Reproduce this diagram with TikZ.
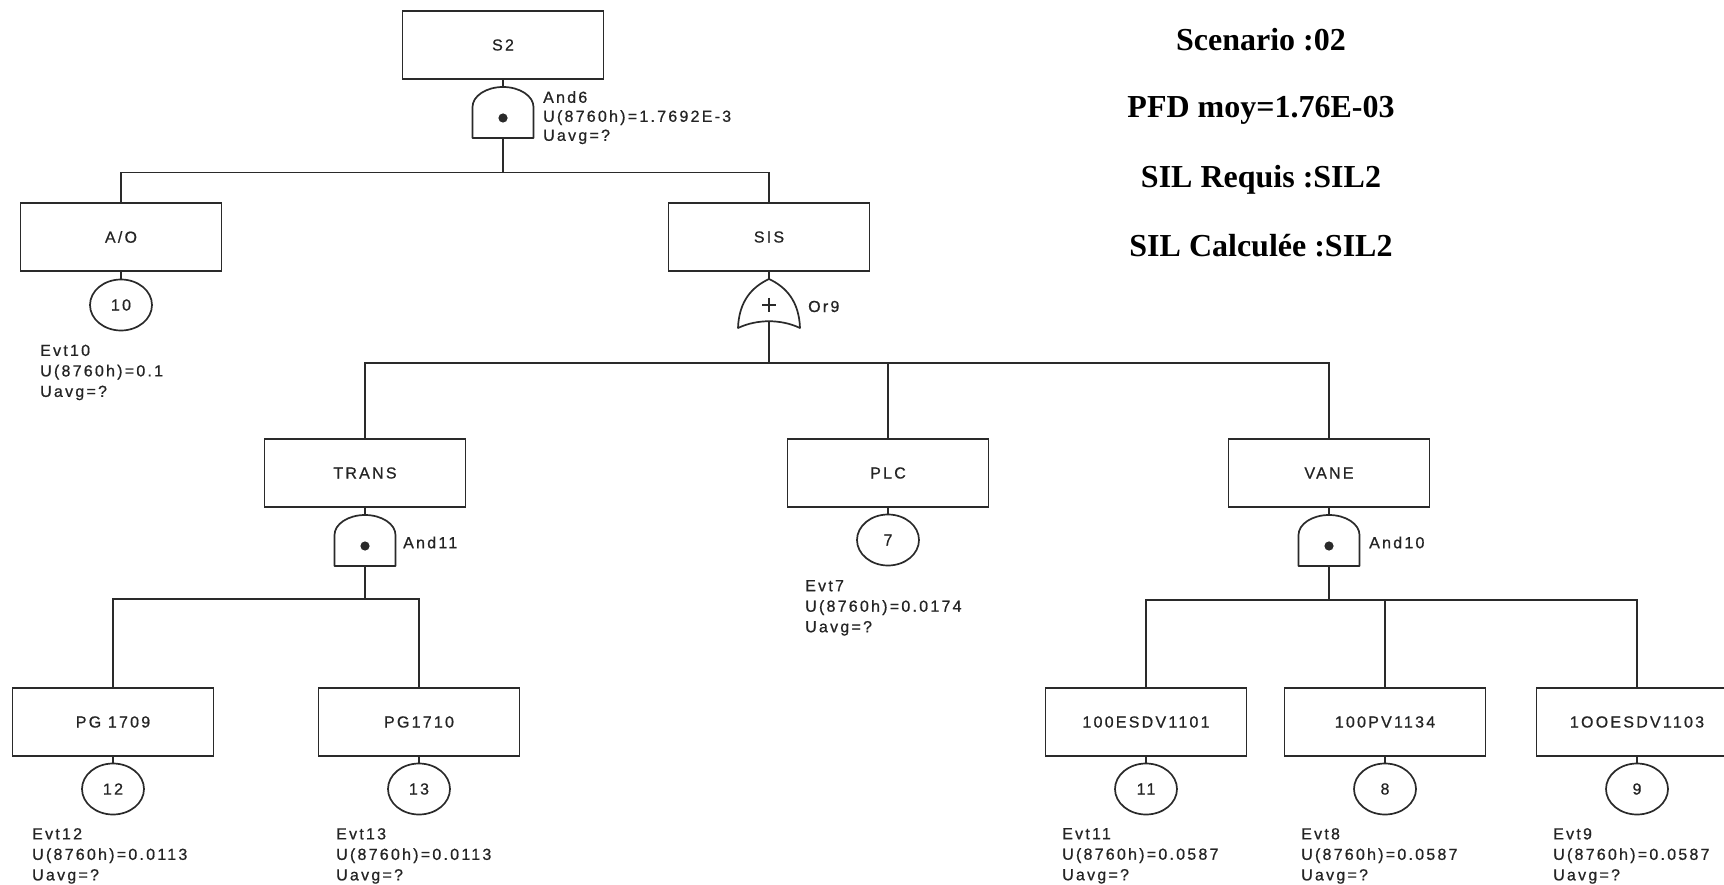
\documentclass[tikz,border=0pt]{standalone}
\usepackage{fontspec}
\setmainfont{Liberation Serif}
\newfontfamily\diagfont{Liberation Sans}[LetterSpace=14, FakeBold=0.7]
\usetikzlibrary{shapes.geometric}

\definecolor{inkline}{HTML}{2A2A2A}
\definecolor{inktext}{HTML}{242424}

\tikzset{
  x=1pt, y=-1pt,
  wire/.style={draw=inkline, line width=1.7pt},
  gateline/.style={draw=inkline, line width=1.7pt, line join=round},
  box/.style={draw=inkline, line width=1.7pt, rectangle, minimum width=201pt,
    minimum height=68pt, inner sep=0pt, text=inktext,
    font=\diagfont\fontsize{16}{18}\selectfont},
  basic/.style={draw=inkline, line width=1.7pt, ellipse, minimum width=62pt,
    minimum height=51pt, inner sep=0pt, text=inktext,
    font=\diagfont\fontsize{16}{18}\selectfont},
  info/.style={anchor=north west, align=left, inner sep=0pt, text=inktext,
    font=\diagfont\fontsize{16}{20.5}\selectfont},
  gatelabel/.style={anchor=west, inner sep=0pt, text=inktext,
    font=\diagfont\fontsize{16}{19}\selectfont},
  summary/.style={anchor=base, inner sep=0pt,
    font=\bfseries\fontsize{32}{36}\selectfont},
  % AND gate: flat base, straight sides, rounded top; origin at the top
  andgate/.pic={
    \draw[gateline] (-30.5,51) -- (-30.5,20)
      .. controls (-30.5,9) and (-16.8,0) .. (0,0)
      .. controls (16.8,0) and (30.5,9) .. (30.5,20) -- (30.5,51) -- cycle;
    \fill[inkline] (0,31) circle[radius=4.6];
    \coordinate (-top) at (0,0);
    \coordinate (-bot) at (0,51);
  },
  % OR gate: pointed arch with a concave base; origin at the tip
  orgate/.pic={
    \draw[gateline] (0,0) .. controls (-17,8) and (-30,22) .. (-31,49)
      .. controls (-12,40) and (12,40) .. (31,49)
      .. controls (30,22) and (17,8) .. (0,0) -- cycle;
    \draw[inkline, line width=1.4pt] (-7,26) -- (7,26) (0,19) -- (0,33);
    \coordinate (-top) at (0,0);
    \coordinate (-bot) at (0,43);
  },
}

\begin{document}
\begin{tikzpicture}
\useasboundingbox (0,0) rectangle (1724,885);
\fill[white] (0,0) rectangle (1724,885);
\clip (0,0) rectangle (1724,885);

% top event and first AND gate
\node[box] (s2) at (503,45) {S2};
\pic (g6) at (503,87) {andgate};
\node[info, font=\diagfont\fontsize{16}{19}\selectfont] (l6) at (543,91)
  {And6\\U(8760h)=1.7692E-3\\Uavg=?};

% second level
\node[box] (ao) at (121,237) {A/O};
\node[box] (sis) at (769,237) {SIS};
\node[basic] (c10) at (121,305) {10};
\node[info] (e10) at (40,344.5) {Evt10\\U(8760h)=0.1\\Uavg=?};
\pic (g9) at (769,279) {orgate};
\node[gatelabel] (l9) at (808,306.5) {Or9};

% third level
\node[box] (trans) at (365,473) {TRANS};
\node[box] (plc) at (888,473) {PLC};
\node[box] (vane) at (1329,473) {VANE};
\pic (g11) at (365,515) {andgate};
\node[gatelabel] (l11) at (403,542.5) {And11};
\node[basic] (c7) at (888,540) {7};
\node[info] (e7) at (805,580) {Evt7\\U(8760h)=0.0174\\Uavg=?};
\pic (g10) at (1329,515) {andgate};
\node[gatelabel] (l10) at (1369,542.5) {And10};

% basic events
\node[box] (pg9) at (113,722) {PG 1709};
\node[box] (pg10) at (419,722) {PG1710};
\node[box] (esdv1) at (1146,722) {100ESDV1101};
\node[box] (pv) at (1385,722) {100PV1134};
\node[box] (esdv3) at (1637,722) {1OOESDV1103};

\node[basic] (c12) at (113,789) {12};
\node[basic] (c13) at (419,789) {13};
\node[basic] (c11) at (1146,789) {11};
\node[basic] (c8) at (1385,789) {8};
\node[basic] (c9) at (1637,789) {9};

\node[info] (e12) at (32,828) {Evt12\\U(8760h)=0.0113\\Uavg=?};
\node[info] (e13) at (336,828) {Evt13\\U(8760h)=0.0113\\Uavg=?};
\node[info] (e11) at (1062,828) {Evt11\\U(8760h)=0.0587\\Uavg=?};
\node[info] (e8) at (1301,828) {Evt8\\U(8760h)=0.0587\\Uavg=?};
\node[info] (e9) at (1553,828) {Evt9\\U(8760h)=0.0587\\Uavg=?};

% bus points
\coordinate (bus1) at (503,172.5);
\coordinate (bus2) at (769,363);
\coordinate (bus3) at (365,599);
\coordinate (bus4) at (1329,600);

% connectors
\draw[wire] (s2.south) -- (g6-top);
\draw[wire] (g6-bot) -- (bus1);
\draw[wire] (bus1) -| (ao.north);
\draw[wire] (bus1) -| (sis.north);
\draw[wire] (ao.south) -- (c10.north);
\draw[wire] (sis.south) -- (g9-top);
\draw[wire] (g9-bot) -- (bus2);
\draw[wire] (bus2) -| (trans.north);
\draw[wire] (bus2) -| (plc.north);
\draw[wire] (bus2) -| (vane.north);
\draw[wire] (trans.south) -- (g11-top);
\draw[wire] (g11-bot) -- (bus3);
\draw[wire] (bus3) -| (pg9.north);
\draw[wire] (bus3) -| (pg10.north);
\draw[wire] (plc.south) -- (c7.north);
\draw[wire] (vane.south) -- (g10-top);
\draw[wire] (g10-bot) -- (bus4);
\draw[wire] (bus4) -| (esdv1.north);
\draw[wire] (bus4) -| (pv.north);
\draw[wire] (bus4) -| (esdv3.north);
\draw[wire] (pg9.south) -- (c12.north);
\draw[wire] (pg10.south) -- (c13.north);
\draw[wire] (esdv1.south) -- (c11.north);
\draw[wire] (pv.south) -- (c8.north);
\draw[wire] (esdv3.south) -- (c9.north);

% summary of the scenario
\node[summary] (t1) at (1261,51) {Scenario :02};
\node[summary] (t2) at (1261,117.5) {PFD moy=1.76E-03};
\node[summary] (t3) at (1261,187.5) {SIL Requis :SIL2};
\node[summary] (t4) at (1261,256.5) {SIL Calculée :SIL2};
\end{tikzpicture}
\end{document}
